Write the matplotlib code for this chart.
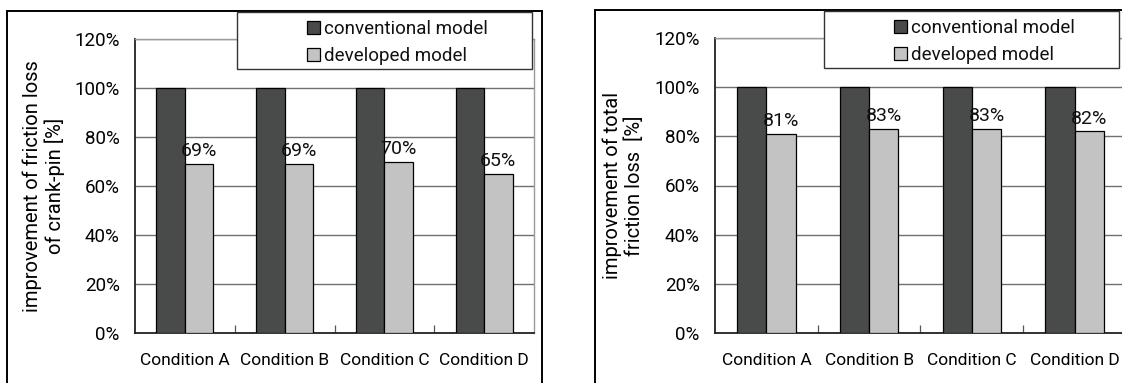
import numpy as np
import matplotlib
matplotlib.use("Agg")
import matplotlib.pyplot as plt
from matplotlib.patches import Rectangle
from matplotlib.ticker import FixedLocator, PercentFormatter

plt.rcParams['font.family'] = ['Roboto', 'DejaVu Sans']
plt.rcParams['font.size'] = 13.5
plt.rcParams['text.color'] = '#111111'

# data
conditions = ["Condition A", "Condition B", "Condition C", "Condition D"]
series_names = ["conventional model", "developed model"]
crankpin_conv = [100, 100, 100, 100]
crankpin_dev = [69, 69, 70, 65]
total_conv = [100, 100, 100, 100]
total_dev = [81, 83, 83, 82]

dark = '#494b4a'
light = '#c3c3c3'

W, H = 1122, 383
fig = plt.figure(figsize=(W / 100, H / 100), dpi=100)


def px_rect(x0, y0, x1, y1):
    # pixel box (top-left origin) -> figure fraction [l, b, w, h]
    return [x0 / W, 1 - y1 / H, (x1 - x0) / W, (y1 - y0) / H]


def panel(rect, conv, dev, ylabel, label_x):
    ax = fig.add_axes(rect)
    x = np.arange(len(conditions))
    w = 0.285
    b1 = ax.bar(x - w / 2, conv, w, color=dark, edgecolor='black', lw=0.9,
                zorder=3, label=series_names[0])
    b2 = ax.bar(x + w / 2, dev, w, color=light, edgecolor='black', lw=0.9,
                zorder=3, label=series_names[1])
    ax.bar_label(b2, labels=[f"{v}%" for v in dev], padding=2.5,
                 fontsize=14, zorder=4)

    ax.set_xlim(-0.5, len(conditions) - 0.5)
    ax.set_ylim(0, 120)
    ax.yaxis.set_major_locator(FixedLocator(np.arange(0, 121, 20)))
    ax.yaxis.set_major_formatter(PercentFormatter(decimals=0))
    ax.set_xticks(x)
    ax.set_xticklabels(conditions, fontsize=12.5)
    ax.xaxis.set_minor_locator(FixedLocator(x[:-1] + 0.5))
    ax.tick_params(axis='x', which='major', length=0, pad=14.5)
    ax.tick_params(axis='x', which='minor', direction='in', length=6,
                   color='#555555', width=0.9)
    ax.tick_params(axis='y', length=0, pad=11)

    ax.grid(axis='y', color='#707070', lw=1.0, zorder=0)
    ax.set_axisbelow(True)
    for s in ('left', 'bottom'):
        ax.spines[s].set_color('#222222')
        ax.spines[s].set_linewidth(1.3)
    for s in ('top', 'right'):
        ax.spines[s].set_color('#9a9a9a')
        ax.spines[s].set_linewidth(1.0)

    ax.set_ylabel(ylabel, linespacing=1.15, va='center', fontsize=14.5)
    ax.yaxis.set_label_coords(label_x, 0.5)
    return ax, b1, b2


axL, l1, l2 = panel(px_rect(135, 39, 534, 333), crankpin_conv, crankpin_dev,
                    "improvement of friction loss\nof crank-pin [%]", -0.228)
axR, r1, r2 = panel(px_rect(715, 38, 1126, 333), total_conv, total_dev,
                    "improvement of total\nfriction loss  [%]", -0.224)

# outer panel frames
for (x0, y0, x1) in [(7, 11, 542), (595, 10, 1140)]:
    l, b, w, h = px_rect(x0, y0, x1, 420)
    fig.patches.append(Rectangle((l, b), w, h, transform=fig.transFigure,
                                 fill=False, ec='black', lw=1.4, zorder=1))

# legend boxes with the keys inside
for (x0, y0, x1, y1), hx, (h1, h2) in [((237, 12, 532, 69), 307, (l1, l2)),
                                        ((824, 11, 1119, 68), 894, (r1, r2))]:
    l, b, w, h = px_rect(x0, y0, x1, y1)
    fig.patches.append(Rectangle((l, b), w, h, transform=fig.transFigure,
                                 fc='white', ec='#333333', lw=1.0, zorder=1))
    fig.legend([h1, h2], series_names, loc='upper left',
               bbox_to_anchor=(hx / W, 1 - (y0 + 8) / H), frameon=False,
               borderpad=0, borderaxespad=0, handlelength=0.68,
               handleheight=0.68, handletextpad=0.25, labelspacing=0.5,
               fontsize=13.5)

fig.savefig("out.png", dpi=100)
